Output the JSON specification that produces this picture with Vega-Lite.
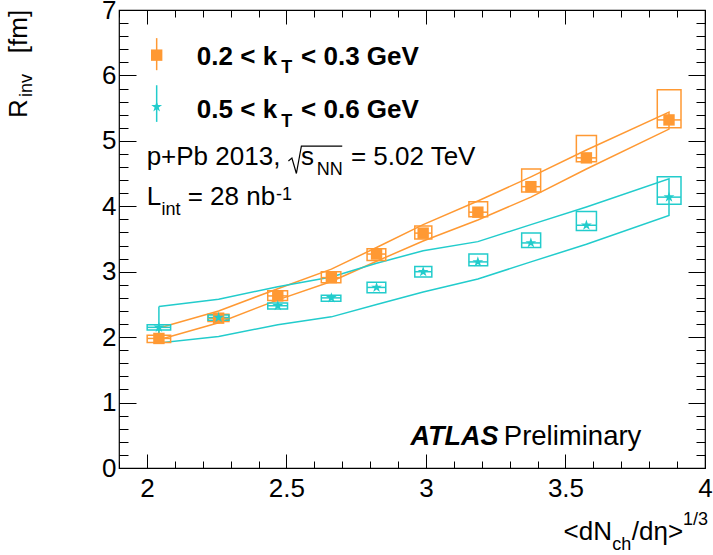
{
  "$schema": "https://vega.github.io/schema/vega-lite/v6.json",
  "width": 586,
  "height": 458,
  "autosize": {"type": "none"},
  "padding": {"left": 119, "top": 10, "right": 8, "bottom": 87},
  "background": "white",
  "config": {
    "view": {"stroke": "black", "strokeWidth": 1.2},
    "axis": {"domain": false, "grid": false, "tickColor": "black", "tickWidth": 1, "labelFont": "Liberation Sans", "labelFontSize": 26, "labelColor": "black", "title": null, "labelFlush": false, "labelOverlap": false}
  },
  "datasets": {
    "pts": [
      {"s": "o", "x": 2.043, "y": 1.98, "ylo": 1.92, "yhi": 2.03, "xlo": 2.001, "xhi": 2.085},
      {"s": "o", "x": 2.257, "y": 2.29, "ylo": 2.24, "yhi": 2.35, "xlo": 2.219, "xhi": 2.294},
      {"s": "o", "x": 2.469, "y": 2.63, "ylo": 2.56, "yhi": 2.71, "xlo": 2.433, "xhi": 2.504},
      {"s": "o", "x": 2.661, "y": 2.91, "ylo": 2.83, "yhi": 3.00, "xlo": 2.625, "xhi": 2.695},
      {"s": "o", "x": 2.823, "y": 3.27, "ylo": 3.17, "yhi": 3.35, "xlo": 2.789, "xhi": 2.856},
      {"s": "o", "x": 2.990, "y": 3.59, "ylo": 3.50, "yhi": 3.70, "xlo": 2.960, "xhi": 3.021},
      {"s": "o", "x": 3.186, "y": 3.91, "ylo": 3.84, "yhi": 4.07, "xlo": 3.154, "xhi": 3.221},
      {"s": "o", "x": 3.376, "y": 4.30, "ylo": 4.22, "yhi": 4.57, "xlo": 3.343, "xhi": 3.411},
      {"s": "o", "x": 3.575, "y": 4.74, "ylo": 4.68, "yhi": 5.08, "xlo": 3.539, "xhi": 3.611},
      {"s": "o", "x": 3.871, "y": 5.32, "ylo": 5.20, "yhi": 5.78, "xlo": 3.829, "xhi": 3.914},
      {"s": "c", "x": 2.043, "y": 2.15, "ylo": 2.11, "yhi": 2.19, "xlo": 2.001, "xhi": 2.085},
      {"s": "c", "x": 2.257, "y": 2.30, "ylo": 2.26, "yhi": 2.34, "xlo": 2.219, "xhi": 2.294},
      {"s": "c", "x": 2.469, "y": 2.48, "ylo": 2.43, "yhi": 2.52, "xlo": 2.433, "xhi": 2.504},
      {"s": "c", "x": 2.661, "y": 2.60, "ylo": 2.55, "yhi": 2.64, "xlo": 2.625, "xhi": 2.695},
      {"s": "c", "x": 2.823, "y": 2.76, "ylo": 2.68, "yhi": 2.84, "xlo": 2.789, "xhi": 2.856},
      {"s": "c", "x": 2.990, "y": 3.00, "ylo": 2.92, "yhi": 3.08, "xlo": 2.960, "xhi": 3.021},
      {"s": "c", "x": 3.186, "y": 3.15, "ylo": 3.09, "yhi": 3.27, "xlo": 3.154, "xhi": 3.221},
      {"s": "c", "x": 3.376, "y": 3.44, "ylo": 3.37, "yhi": 3.59, "xlo": 3.343, "xhi": 3.411},
      {"s": "c", "x": 3.575, "y": 3.71, "ylo": 3.63, "yhi": 3.92, "xlo": 3.539, "xhi": 3.611},
      {"s": "c", "x": 3.871, "y": 4.14, "ylo": 4.03, "yhi": 4.45, "xlo": 3.829, "xhi": 3.914}
    ],
    "band": [
      {"s": "o", "ord": 1, "x": 2.043, "y": 2.14},
      {"s": "o", "ord": 2, "x": 2.257, "y": 2.40},
      {"s": "o", "ord": 3, "x": 2.469, "y": 2.74},
      {"s": "o", "ord": 4, "x": 2.661, "y": 3.04},
      {"s": "o", "ord": 5, "x": 2.823, "y": 3.37},
      {"s": "o", "ord": 6, "x": 2.990, "y": 3.72},
      {"s": "o", "ord": 7, "x": 3.186, "y": 4.08},
      {"s": "o", "ord": 8, "x": 3.376, "y": 4.45},
      {"s": "o", "ord": 9, "x": 3.575, "y": 4.86},
      {"s": "o", "ord": 10, "x": 3.871, "y": 5.44},
      {"s": "o", "ord": 11, "x": 3.871, "y": 5.18},
      {"s": "o", "ord": 12, "x": 3.575, "y": 4.57},
      {"s": "o", "ord": 13, "x": 3.376, "y": 4.14},
      {"s": "o", "ord": 14, "x": 3.186, "y": 3.79},
      {"s": "o", "ord": 15, "x": 2.990, "y": 3.47},
      {"s": "o", "ord": 16, "x": 2.823, "y": 3.16},
      {"s": "o", "ord": 17, "x": 2.661, "y": 2.85},
      {"s": "o", "ord": 18, "x": 2.469, "y": 2.57},
      {"s": "o", "ord": 19, "x": 2.257, "y": 2.22},
      {"s": "o", "ord": 20, "x": 2.043, "y": 1.96},
      {"s": "o", "ord": 21, "x": 2.043, "y": 2.14},
      {"s": "c", "ord": 1, "x": 2.043, "y": 2.47},
      {"s": "c", "ord": 2, "x": 2.257, "y": 2.58},
      {"s": "c", "ord": 3, "x": 2.469, "y": 2.77},
      {"s": "c", "ord": 4, "x": 2.661, "y": 2.92},
      {"s": "c", "ord": 5, "x": 2.823, "y": 3.13},
      {"s": "c", "ord": 6, "x": 2.990, "y": 3.32},
      {"s": "c", "ord": 7, "x": 3.186, "y": 3.46},
      {"s": "c", "ord": 8, "x": 3.376, "y": 3.72},
      {"s": "c", "ord": 9, "x": 3.575, "y": 3.99},
      {"s": "c", "ord": 10, "x": 3.871, "y": 4.42},
      {"s": "c", "ord": 11, "x": 3.871, "y": 3.86},
      {"s": "c", "ord": 12, "x": 3.575, "y": 3.42},
      {"s": "c", "ord": 13, "x": 3.376, "y": 3.15},
      {"s": "c", "ord": 14, "x": 3.186, "y": 2.89},
      {"s": "c", "ord": 15, "x": 2.990, "y": 2.69},
      {"s": "c", "ord": 16, "x": 2.823, "y": 2.50},
      {"s": "c", "ord": 17, "x": 2.661, "y": 2.31},
      {"s": "c", "ord": 18, "x": 2.469, "y": 2.19},
      {"s": "c", "ord": 19, "x": 2.257, "y": 2.01},
      {"s": "c", "ord": 20, "x": 2.043, "y": 1.91},
      {"s": "c", "ord": 21, "x": 2.043, "y": 2.47}
    ],
    "leg": [
      {"s": "o", "x": 2.035, "y": 6.31, "ylo": 6.08, "yhi": 6.57},
      {"s": "c", "x": 2.035, "y": 5.52, "ylo": 5.29, "yhi": 5.85}
    ],
    "tb": [
      {"x": 2.179, "y": 6.16, "t": "0.2 < k"},
      {"x": 2.5525, "y": 6.16, "t": "< 0.3 GeV"},
      {"x": 2.179, "y": 5.345, "t": "0.5 < k"},
      {"x": 2.5525, "y": 5.345, "t": "< 0.6 GeV"}
    ],
    "tbs": [
      {"x": 2.481, "y": 6.04, "t": "T"},
      {"x": 2.481, "y": 5.216, "t": "T"}
    ],
    "tr": [
      {"x": 1.999, "y": 4.63, "t": "p+Pb 2013,"},
      {"x": 2.5525, "y": 4.63, "t": "s"},
      {"x": 2.731, "y": 4.63, "t": "= 5.02 TeV"},
      {"x": 1.999, "y": 4.02, "t": "L"},
      {"x": 2.146, "y": 4.02, "t": "= 28 nb"},
      {"x": 3.493, "y": -1.10, "t": "<dN"},
      {"x": 3.7375, "y": -1.10, "t": "/dη>"}
    ],
    "tbig": [
      {"x": 3.279, "y": 0.35, "t": "Preliminary"}
    ],
    "ts": [
      {"x": 2.6089, "y": 4.48, "t": "NN"},
      {"x": 2.0525, "y": 3.87, "t": "int"},
      {"x": 2.463, "y": 4.10, "t": "-1"},
      {"x": 3.668, "y": -1.253, "t": "ch"},
      {"x": 3.921, "y": -0.864, "t": "1/3"}
    ],
    "tbi": [
      {"x": 2.945, "y": 0.35, "t": "ATLAS"}
    ],
    "sqrt": [
      {"o": 1, "x": 2.5071, "y": 4.692},
      {"o": 2, "x": 2.5196, "y": 4.738},
      {"o": 3, "x": 2.5357, "y": 4.501},
      {"o": 4, "x": 2.5536, "y": 4.921},
      {"o": 5, "x": 2.70, "y": 4.921}
    ],
    "yt": [
      {"x": 1.5704, "y": 5.349, "t": "R"},
      {"x": 1.5704, "y": 6.34, "t": "[fm]"}
    ],
    "yts": [
      {"x": 1.5875, "y": 5.67, "t": "inv"}
    ]
  },
  "resolve": {"axis": {"x": "independent", "y": "independent"}},
  "layer": [
    {
      "data": {"name": "band"},
      "mark": {"type": "line", "strokeWidth": 1.5},
      "encoding": {
        "x": {"field": "x", "type": "quantitative", "scale": {"domain": [1.9, 4], "nice": false, "zero": false}, "axis": {"orient": "bottom", "values": [2, 2.5, 3, 3.5, 4], "ticks": false, "labelPadding": 7, "format": "~g"}},
        "y": {"field": "y", "type": "quantitative", "scale": {"domain": [0, 7], "nice": false, "zero": false}, "axis": {"orient": "left", "values": [0, 1, 2, 3, 4, 5, 6, 7], "ticks": false, "labelPadding": 3}},
        "detail": {"field": "s"},
        "order": {"field": "ord", "type": "quantitative"},
        "color": {"field": "s", "type": "nominal", "scale": {"domain": ["o", "c"], "range": ["#ff9933", "#22cccc"]}, "legend": null}
      }
    },
    {
      "data": {"name": "pts"},
      "mark": {"type": "rect", "filled": false, "strokeWidth": 1.5},
      "encoding": {
        "x": {"field": "xlo", "type": "quantitative", "scale": {"domain": [1.9, 4], "nice": false, "zero": false}, "axis": {"orient": "bottom", "values": [2, 2.5, 3, 3.5, 4], "labels": false, "tickSize": -14}},
        "x2": {"field": "xhi"},
        "y": {"field": "ylo", "type": "quantitative", "scale": {"domain": [0, 7], "nice": false, "zero": false}, "axis": {"orient": "left", "values": [0, 1, 2, 3, 4, 5, 6, 7], "labels": false, "tickSize": -17}},
        "y2": {"field": "yhi"},
        "color": {"field": "s", "type": "nominal", "scale": {"domain": ["o", "c"], "range": ["#ff9933", "#22cccc"]}, "legend": null}
      }
    },
    {
      "data": {"name": "pts"},
      "mark": {"type": "rule", "strokeWidth": 1.5},
      "encoding": {
        "x": {"field": "xlo", "type": "quantitative", "scale": {"domain": [1.9, 4], "nice": false, "zero": false}, "axis": {"orient": "bottom", "values": [1.9, 2.1, 2.2, 2.3, 2.4, 2.6, 2.7, 2.8, 2.9, 3.1, 3.2, 3.3, 3.4, 3.6, 3.7, 3.8, 3.9], "labels": false, "tickSize": -7}},
        "x2": {"field": "xhi"},
        "y": {"field": "y", "type": "quantitative", "scale": {"domain": [0, 7], "nice": false, "zero": false}, "axis": {"orient": "left", "values": [0.2, 0.4, 0.6, 0.8, 1.2, 1.4, 1.6, 1.8, 2.2, 2.4, 2.6, 2.8, 3.2, 3.4, 3.6, 3.8, 4.2, 4.4, 4.6, 4.8, 5.2, 5.4, 5.6, 5.8, 6.2, 6.4, 6.6, 6.8], "labels": false, "tickSize": -9}},
        "color": {"field": "s", "type": "nominal", "scale": {"domain": ["o", "c"], "range": ["#ff9933", "#22cccc"]}, "legend": null}
      }
    },
    {
      "data": {"name": "pts"},
      "mark": {"type": "point", "filled": true, "opacity": 1, "size": 130, "strokeWidth": 0},
      "encoding": {
        "x": {"field": "x", "type": "quantitative", "scale": {"domain": [1.9, 4], "nice": false, "zero": false}, "axis": {"orient": "top", "values": [2, 2.5, 3, 3.5, 4], "labels": false, "tickSize": -14}},
        "y": {"field": "y", "type": "quantitative", "scale": {"domain": [0, 7], "nice": false, "zero": false}, "axis": {"orient": "right", "values": [0, 1, 2, 3, 4, 5, 6, 7], "labels": false, "tickSize": -17}},
        "shape": {"field": "s", "type": "nominal", "scale": {"domain": ["o", "c"], "range": ["square", "M0,-1L0.2245,-0.309L0.951,-0.309L0.363,0.118L0.588,0.809L0,0.382L-0.588,0.809L-0.363,0.118L-0.951,-0.309L-0.2245,-0.309Z"]}, "legend": null},
        "color": {"field": "s", "type": "nominal", "scale": {"domain": ["o", "c"], "range": ["#ff9933", "#22cccc"]}, "legend": null}
      }
    },
    {
      "data": {"name": "leg"},
      "mark": {"type": "rule", "strokeWidth": 1.5},
      "encoding": {
        "x": {"field": "x", "type": "quantitative", "scale": {"domain": [1.9, 4], "nice": false, "zero": false}, "axis": {"orient": "top", "values": [1.9, 2.1, 2.2, 2.3, 2.4, 2.6, 2.7, 2.8, 2.9, 3.1, 3.2, 3.3, 3.4, 3.6, 3.7, 3.8, 3.9], "labels": false, "tickSize": -7}},
        "y": {"field": "ylo", "type": "quantitative", "scale": {"domain": [0, 7], "nice": false, "zero": false}, "axis": {"orient": "right", "values": [0.2, 0.4, 0.6, 0.8, 1.2, 1.4, 1.6, 1.8, 2.2, 2.4, 2.6, 2.8, 3.2, 3.4, 3.6, 3.8, 4.2, 4.4, 4.6, 4.8, 5.2, 5.4, 5.6, 5.8, 6.2, 6.4, 6.6, 6.8], "labels": false, "tickSize": -9}},
        "y2": {"field": "yhi"},
        "color": {"field": "s", "type": "nominal", "scale": {"domain": ["o", "c"], "range": ["#ff9933", "#22cccc"]}, "legend": null}
      }
    },
    {
      "data": {"name": "leg"},
      "mark": {"type": "point", "filled": true, "opacity": 1, "size": 130, "strokeWidth": 0},
      "encoding": {
        "x": {"field": "x", "type": "quantitative", "scale": {"domain": [1.9, 4], "nice": false, "zero": false}, "axis": null},
        "y": {"field": "y", "type": "quantitative", "scale": {"domain": [0, 7], "nice": false, "zero": false}, "axis": null},
        "shape": {"field": "s", "type": "nominal", "scale": {"domain": ["o", "c"], "range": ["square", "M0,-1L0.2245,-0.309L0.951,-0.309L0.363,0.118L0.588,0.809L0,0.382L-0.588,0.809L-0.363,0.118L-0.951,-0.309L-0.2245,-0.309Z"]}, "legend": null},
        "color": {"field": "s", "type": "nominal", "scale": {"domain": ["o", "c"], "range": ["#ff9933", "#22cccc"]}, "legend": null}
      }
    },
    {
      "data": {"name": "tb"},
      "mark": {"type": "text", "align": "left", "baseline": "alphabetic", "font": "Liberation Sans", "fontSize": 26, "fontWeight": "bold", "color": "black"},
      "encoding": {
        "x": {"field": "x", "type": "quantitative", "scale": {"domain": [1.9, 4], "nice": false, "zero": false}, "axis": null},
        "y": {"field": "y", "type": "quantitative", "scale": {"domain": [0, 7], "nice": false, "zero": false}, "axis": null},
        "text": {"field": "t"}
      }
    },
    {
      "data": {"name": "tbs"},
      "mark": {"type": "text", "align": "left", "baseline": "alphabetic", "font": "Liberation Sans", "fontSize": 18, "fontWeight": "bold", "color": "black"},
      "encoding": {
        "x": {"field": "x", "type": "quantitative", "scale": {"domain": [1.9, 4], "nice": false, "zero": false}, "axis": null},
        "y": {"field": "y", "type": "quantitative", "scale": {"domain": [0, 7], "nice": false, "zero": false}, "axis": null},
        "text": {"field": "t"}
      }
    },
    {
      "data": {"name": "tr"},
      "mark": {"type": "text", "align": "left", "baseline": "alphabetic", "font": "Liberation Sans", "fontSize": 26, "color": "black"},
      "encoding": {
        "x": {"field": "x", "type": "quantitative", "scale": {"domain": [1.9, 4], "nice": false, "zero": false}, "axis": null},
        "y": {"field": "y", "type": "quantitative", "scale": {"domain": [0, 7], "nice": false, "zero": false}, "axis": null},
        "text": {"field": "t"}
      }
    },
    {
      "data": {"name": "tbig"},
      "mark": {"type": "text", "align": "left", "baseline": "alphabetic", "font": "Liberation Sans", "fontSize": 27.5, "color": "black"},
      "encoding": {
        "x": {"field": "x", "type": "quantitative", "scale": {"domain": [1.9, 4], "nice": false, "zero": false}, "axis": null},
        "y": {"field": "y", "type": "quantitative", "scale": {"domain": [0, 7], "nice": false, "zero": false}, "axis": null},
        "text": {"field": "t"}
      }
    },
    {
      "data": {"name": "ts"},
      "mark": {"type": "text", "align": "left", "baseline": "alphabetic", "font": "Liberation Sans", "fontSize": 18, "color": "black"},
      "encoding": {
        "x": {"field": "x", "type": "quantitative", "scale": {"domain": [1.9, 4], "nice": false, "zero": false}, "axis": null},
        "y": {"field": "y", "type": "quantitative", "scale": {"domain": [0, 7], "nice": false, "zero": false}, "axis": null},
        "text": {"field": "t"}
      }
    },
    {
      "data": {"name": "tbi"},
      "mark": {"type": "text", "align": "left", "baseline": "alphabetic", "font": "Liberation Sans", "fontSize": 27, "fontWeight": "bold", "fontStyle": "italic", "color": "black"},
      "encoding": {
        "x": {"field": "x", "type": "quantitative", "scale": {"domain": [1.9, 4], "nice": false, "zero": false}, "axis": null},
        "y": {"field": "y", "type": "quantitative", "scale": {"domain": [0, 7], "nice": false, "zero": false}, "axis": null},
        "text": {"field": "t"}
      }
    },
    {
      "data": {"name": "sqrt"},
      "mark": {"type": "line", "strokeWidth": 1.2, "color": "black"},
      "encoding": {
        "x": {"field": "x", "type": "quantitative", "scale": {"domain": [1.9, 4], "nice": false, "zero": false}, "axis": null},
        "y": {"field": "y", "type": "quantitative", "scale": {"domain": [0, 7], "nice": false, "zero": false}, "axis": null},
        "order": {"field": "o", "type": "quantitative"}
      }
    },
    {
      "data": {"name": "yt"},
      "mark": {"type": "text", "align": "left", "baseline": "alphabetic", "angle": 270, "font": "Liberation Sans", "fontSize": 26, "color": "black"},
      "encoding": {
        "x": {"field": "x", "type": "quantitative", "scale": {"domain": [1.9, 4], "nice": false, "zero": false}, "axis": null},
        "y": {"field": "y", "type": "quantitative", "scale": {"domain": [0, 7], "nice": false, "zero": false}, "axis": null},
        "text": {"field": "t"}
      }
    },
    {
      "data": {"name": "yts"},
      "mark": {"type": "text", "align": "left", "baseline": "alphabetic", "angle": 270, "font": "Liberation Sans", "fontSize": 18, "color": "black"},
      "encoding": {
        "x": {"field": "x", "type": "quantitative", "scale": {"domain": [1.9, 4], "nice": false, "zero": false}, "axis": null},
        "y": {"field": "y", "type": "quantitative", "scale": {"domain": [0, 7], "nice": false, "zero": false}, "axis": null},
        "text": {"field": "t"}
      }
    }
  ]
}
